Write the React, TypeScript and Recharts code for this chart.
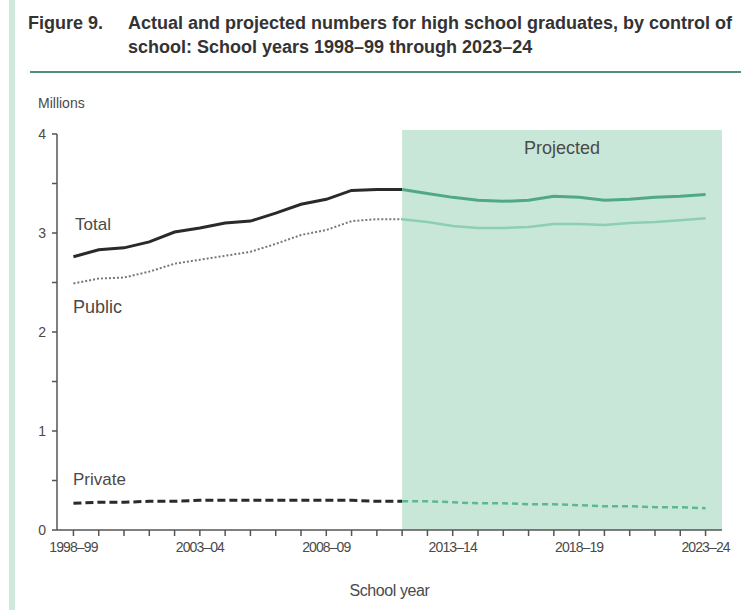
import React from 'react';
import {
  LineChart,
  Line,
  XAxis,
  YAxis,
  ReferenceArea,
} from 'recharts';

const schoolYears = [
  '1998–99', '1999–2000', '2000–01', '2001–02', '2002–03', '2003–04', '2004–05',
  '2005–06', '2006–07', '2007–08', '2008–09', '2009–10', '2010–11', '2011–12',
  '2012–13', '2013–14', '2014–15', '2015–16', '2016–17', '2017–18', '2018–19',
  '2019–20', '2020–21', '2021–22', '2022–23', '2023–24',
];

// actual: 1998–99 .. 2011–12 (millions)
const totalActual = [2.76, 2.83, 2.85, 2.91, 3.01, 3.05, 3.10, 3.12, 3.20, 3.29, 3.34, 3.43, 3.44, 3.44];
const publicActual = [2.49, 2.54, 2.55, 2.61, 2.69, 2.73, 2.77, 2.81, 2.89, 2.98, 3.03, 3.12, 3.14, 3.14];
const privateActual = [0.27, 0.28, 0.28, 0.29, 0.29, 0.30, 0.30, 0.30, 0.30, 0.30, 0.30, 0.30, 0.29, 0.29];

// projected: 2011–12 .. 2023–24
const totalProjected = [3.44, 3.40, 3.36, 3.33, 3.32, 3.33, 3.37, 3.36, 3.33, 3.34, 3.36, 3.37, 3.39];
const publicProjected = [3.14, 3.11, 3.07, 3.05, 3.05, 3.06, 3.09, 3.09, 3.08, 3.10, 3.11, 3.13, 3.15];
const privateProjected = [0.29, 0.29, 0.28, 0.27, 0.27, 0.26, 0.26, 0.25, 0.24, 0.24, 0.23, 0.23, 0.22];

const yTicks = [0, 0.5, 1, 1.5, 2, 2.5, 3, 3.5, 4];

const PROJ_START = totalActual.length - 1;

const data = schoolYears.map((year, i) => ({
  i,
  year,
  totalA: i <= PROJ_START ? totalActual[i] : null,
  publicA: i <= PROJ_START ? publicActual[i] : null,
  privateA: i <= PROJ_START ? privateActual[i] : null,
  totalP: i >= PROJ_START ? totalProjected[i - PROJ_START] : null,
  publicP: i >= PROJ_START ? publicProjected[i - PROJ_START] : null,
  privateP: i >= PROJ_START ? privateProjected[i - PROJ_START] : null,
}));

const FONT = '"Liberation Sans", Arial, sans-serif';
const TEXT = '#4a4a4a';
const AXIS = '#555';

const label = (text: string, left: number, top: number, size = 16): React.ReactNode => (
  <div
    style={{
      position: 'absolute',
      left,
      top,
      fontSize: size,
      color: TEXT,
      fontFamily: FONT,
      lineHeight: 1,
      whiteSpace: 'nowrap',
    }}
  >
    {text}
  </div>
);

export default function App() {
  return (
    <div
      style={{
        position: 'absolute',
        left: 0,
        top: 0,
        width: 741,
        height: 610,
        background: '#fff',
        fontFamily: FONT,
        overflow: 'hidden',
      }}
    >
      <div style={{ position: 'absolute', left: 9, top: 0, width: 6, height: 610, background: '#cfe8d9' }} />
      <div
        style={{
          position: 'absolute',
          left: 28,
          top: 11,
          fontSize: 18,
          fontWeight: 'bold',
          color: '#333',
          lineHeight: '24px',
          whiteSpace: 'nowrap',
        }}
      >
        <div>
          <span style={{ display: 'inline-block', width: 100 }}>Figure 9.</span>
          Actual and projected numbers for high school graduates, by control of
        </div>
        <div style={{ paddingLeft: 100 }}>school: School years 1998–99 through 2023–24</div>
      </div>
      <div style={{ position: 'absolute', left: 30, top: 71, width: 711, height: 2, background: '#4d8f77' }} />

      {label('Millions', 38, 96, 14)}
      {label('Total', 75, 216, 17)}
      {label('Public', 73, 298, 18)}
      {label('Private', 73, 471, 17)}

      <div style={{ position: 'absolute', left: 0, top: 0 }}>
        <LineChart
          width={741}
          height={610}
          data={data}
          margin={{ top: 134, right: 19, bottom: 0, left: 17 }}
        >
          <ReferenceArea
            x1={PROJ_START}
            x2={25.65}
            y1={0}
            y2={4.04}
            ifOverflow="visible"
            fill="#c9e7d8"
            fillOpacity={1}
            stroke="none"
            label={{
              value: 'Projected',
              position: 'insideTop',
              offset: 11,
              fill: TEXT,
              fontSize: 18,
              fontFamily: FONT,
            }}
          />
          <XAxis
            type="number"
            dataKey="i"
            domain={[-0.65, 25.65]}
            ticks={schoolYears.map((_, i) => i)}
            tickFormatter={(v: number) => (v % 5 === 0 ? schoolYears[v] : '')}
            interval={0}
            height={80}
            tickSize={6}
            tickMargin={6}
            stroke={AXIS}
            strokeWidth={1.5}
            tick={{ fill: TEXT, fontSize: 14, fontFamily: FONT, letterSpacing: -0.9 }}
            label={{
              value: 'School year',
              position: 'insideBottom',
              offset: 14,
              fill: TEXT,
              fontSize: 16,
              fontFamily: FONT,
              letterSpacing: -0.4,
            }}
          />
          <YAxis
            domain={[0, 4]}
            ticks={yTicks}
            interval={0}
            width={40}
            tickSize={5}
            tickMargin={6}
            tickFormatter={(v: number) => (Number.isInteger(v) ? String(v) : '')}
            stroke={AXIS}
            strokeWidth={1.5}
            tick={{ fill: TEXT, fontSize: 14, fontFamily: FONT }}
          />
          <Line dataKey="totalA" stroke="#2a2a2a" strokeWidth={3} dot={false} isAnimationActive={false} />
          <Line dataKey="publicA" stroke="#777" strokeWidth={2} strokeDasharray="2 2" dot={false} isAnimationActive={false} />
          <Line dataKey="privateA" stroke="#2a2a2a" strokeWidth={3} strokeDasharray="8 4" dot={false} isAnimationActive={false} />
          <Line dataKey="totalP" stroke="#4fa987" strokeWidth={3} dot={false} isAnimationActive={false} />
          <Line dataKey="publicP" stroke="#8ccfb3" strokeWidth={2.5} dot={false} isAnimationActive={false} />
          <Line dataKey="privateP" stroke="#5cb891" strokeWidth={2.5} strokeDasharray="6 4" dot={false} isAnimationActive={false} />
        </LineChart>
      </div>
    </div>
  );
}
